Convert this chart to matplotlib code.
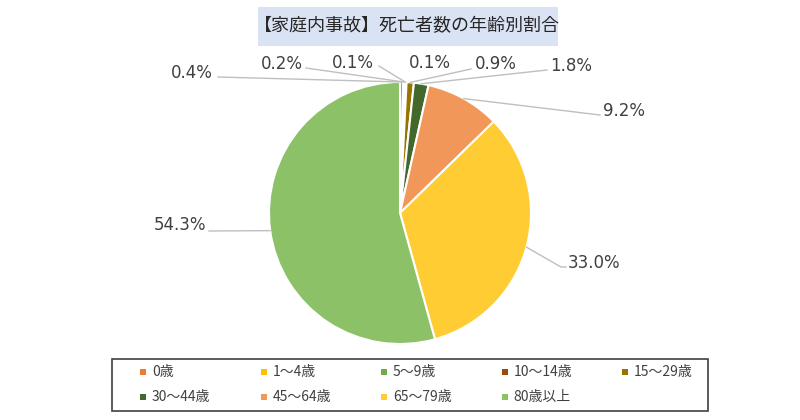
import matplotlib
matplotlib.use('Agg')
import matplotlib.pyplot as plt
import numpy as np
from matplotlib.patches import Rectangle

plt.rcParams['font.family'] = ['Noto Sans CJK JP', 'DejaVu Sans']

# データ（年齢層別の死亡者割合 %）
ages = ['0歳', '1～4歳', '5～9歳', '10～14歳', '15～29歳',
        '30～44歳', '45～64歳', '65～79歳', '80歳以上']
shares = [0.4, 0.2, 0.1, 0.1, 0.9, 1.8, 9.2, 33.0, 54.3]
colors = ['#ED7D31', '#FFC000', '#70AD47', '#9E480E', '#997300',
          '#43682B', '#F1975A', '#FFCD33', '#8CC168']
title = '【家庭内事故】死亡者数の年齢別割合'

# ラベル配置（ピクセル座標, 上から）: (x, y, ha, 線の終点)
label_layout = [
    (213, 73, 'right', [(218, 77)]),
    (303, 64, 'right', [(306, 68)]),
    (374, 63, 'right', [(379, 66)]),
    (409, 63, 'left', None),
    (475, 64, 'left', [(471, 69)]),
    (550, 66, 'left', [(547, 70)]),
    (603, 111, 'left', [(600, 115)]),
    (568, 263, 'left', [(561, 267), (566, 267)]),
    (206, 225, 'right', [(209, 231)]),
]

W, H = 800, 420
fig = plt.figure(figsize=(8, 4.2), dpi=100)
ax = fig.add_axes([0, 0, 1, 1])

cx, cy, r = 400, H - 213, 131
wedges, _ = ax.pie(shares, colors=colors, startangle=90, counterclock=False,
                   center=(cx, cy), radius=r,
                   wedgeprops=dict(edgecolor='white', linewidth=1.5))
ax.set_xlim(0, W)
ax.set_ylim(0, H)
ax.set_aspect('equal')
ax.set_axis_off()

txt_col = '#404040'
for w, v, (lx, ly, ha, path) in zip(wedges, shares, label_layout):
    mid = np.deg2rad((w.theta1 + w.theta2) / 2)
    ax_pt = (cx + r * np.cos(mid), cy + r * np.sin(mid))
    if path:
        xs = [ax_pt[0]] + [p[0] for p in path]
        ys = [ax_pt[1]] + [H - p[1] for p in path]
        ax.plot(xs, ys, color='#BFBFBF', lw=1, zorder=1)
    ax.text(lx, H - ly, f'{v:.1f}%', ha=ha, va='center', fontsize=12,
            color=txt_col, family=['DejaVu Sans'])

# タイトル
ax.add_patch(Rectangle((258, H - 46), 300, 39, facecolor='#DAE3F3',
                       edgecolor='none', zorder=0))
ax.text(407, H - 26, title, ha='center', va='center', fontsize=13,
        color='#262626')

# 凡例
ax.add_patch(Rectangle((112, H - 411), 596, 52, facecolor='white',
                       edgecolor='#404040', lw=1.2, zorder=2))
for i, (lab, c) in enumerate(zip(ages, colors)):
    col, row = i % 5, i // 5
    mx = 140 + col * 120.5
    my = 372 + row * 25
    ax.add_patch(Rectangle((mx, H - my - 3), 6, 6, facecolor=c,
                           edgecolor='none', zorder=3))
    ax.text(mx + 12, H - my, lab, ha='left', va='center', fontsize=10,
            color=txt_col, zorder=3)

fig.savefig('out.png', dpi=100)
